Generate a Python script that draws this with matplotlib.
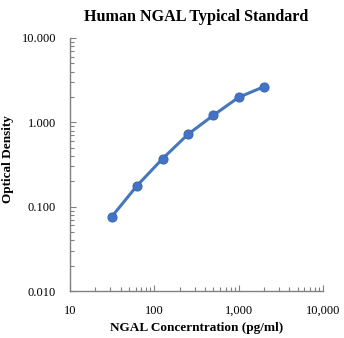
import matplotlib
matplotlib.use("Agg")
import matplotlib.pyplot as plt
from matplotlib.ticker import LogLocator, NullFormatter

# standard curve values
concentration = [31.25, 62.5, 125, 250, 500, 1000, 2000]
optical_density = [0.076, 0.178, 0.37, 0.72, 1.21, 1.98, 2.65]

x_ticks = [10, 100, 1000, 10000]
x_tick_labels = ["10", "100", "1,000", "10,000"]
y_ticks = [0.01, 0.1, 1, 10]
y_tick_labels = ["0.010", "0.100", "1.000", "10.000"]

plt.rcParams["font.family"] = ["Liberation Serif", "DejaVu Serif"]

fig = plt.figure(figsize=(3.44, 3.38), dpi=100)
ax = fig.add_axes([0.2035, 0.139, 0.7355, 0.7486])

ax.plot(concentration, optical_density, color="#4677BC", linewidth=2.2,
        marker="o", markersize=6.5, markerfacecolor="#4472C4",
        markeredgecolor="#3A6BB5", markeredgewidth=0.8)

ax.set_xscale("log")
ax.set_yscale("log")
ax.set_xlim(10, 10000)
ax.set_ylim(0.01, 10)

ax.set_xticks(x_ticks)
ax.set_xticklabels(x_tick_labels)
ax.set_yticks(y_ticks)
ax.set_yticklabels(y_tick_labels)
ax.xaxis.set_minor_locator(LogLocator(base=10, subs=range(2, 10)))
ax.yaxis.set_minor_locator(LogLocator(base=10, subs=range(2, 10)))
ax.xaxis.set_minor_formatter(NullFormatter())
ax.yaxis.set_minor_formatter(NullFormatter())

ax.tick_params(axis="both", which="both", direction="in", colors="#808080",
               labelcolor="black", labelsize=9, width=0.8)
ax.tick_params(axis="both", which="major", length=4, pad=10)
ax.tick_params(axis="both", which="minor", length=3)

for side in ["top", "right"]:
    ax.spines[side].set_visible(False)
for side in ["left", "bottom"]:
    ax.spines[side].set_color("#808080")
    ax.spines[side].set_linewidth(1.0)

ax.set_title("Human NGAL Typical Standard", fontsize=11.6, fontweight="bold", pad=12)
ax.set_xlabel("NGAL Concerntration (pg/ml)", fontsize=9.5, fontweight="bold")
ax.set_ylabel("Optical Density", fontsize=9.5, fontweight="bold")
ax.xaxis.set_label_coords(0.5, -0.123)
ax.yaxis.set_label_coords(-0.222, 0.52)

fig.savefig("out.png", dpi=100)
